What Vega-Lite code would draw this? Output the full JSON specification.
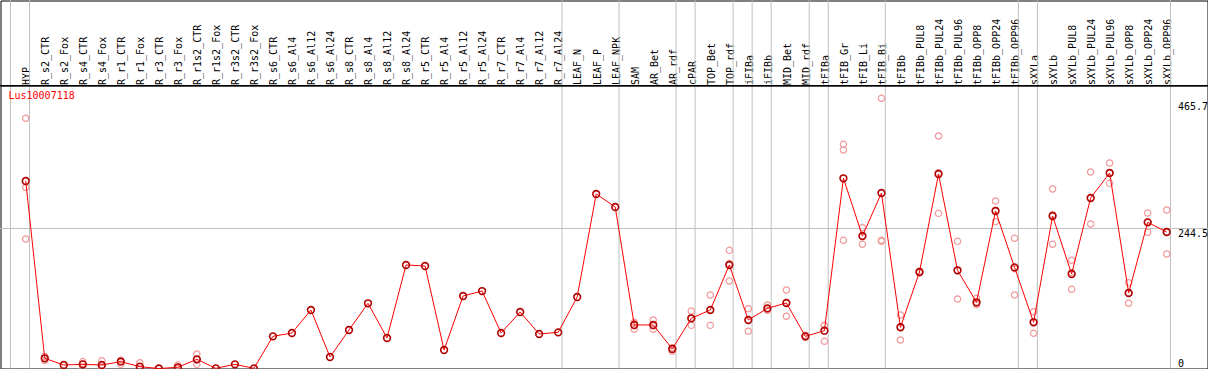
{
  "$schema": "https://vega.github.io/schema/vega-lite/v6.json",
  "width": 1207,
  "height": 368,
  "autosize": {"type": "none"},
  "padding": 0.5,
  "background": "white",
  "view": {"stroke": "black", "strokeWidth": 1},
  "config": {"font": "DejaVu Sans Mono"},
  "title": {"text": "Lus10007118", "color": "#ff0000", "font": "DejaVu Sans Mono", "fontSize": 10, "fontWeight": "normal", "anchor": "start", "frame": "group", "orient": "top", "offset": -101, "dx": 8},
  "datasets": {
    "groups": [
      {"sample": "HYP"}, {"sample": "R_s2_CTR"}, {"sample": "LEAF_N"}, {"sample": "SAM"}, {"sample": "cPAR"}, {"sample": "TOP_Bet"}, {"sample": "iFIBa"}, {"sample": "iFIBb"}, {"sample": "MID_Bet"}, {"sample": "tFIBa"}, {"sample": "tFIB_Gr"}, {"sample": "tFIBb"}, {"sample": "sXYLa"}, {"sample": "sXYLb"}
    ],
    "last": [{"sample": "sXYLb_OPP96"}],
    "means": [
      {"sample": "HYP", "value": 327.5},
      {"sample": "R_s2_CTR", "value": 17.8},
      {"sample": "R_s2_Fox", "value": 6.1},
      {"sample": "R_s4_CTR", "value": 7.3},
      {"sample": "R_s4_Fox", "value": 6.1},
      {"sample": "R_r1_CTR", "value": 11.9},
      {"sample": "R_r1_Fox", "value": 3.2},
      {"sample": "R_r3_CTR", "value": 0},
      {"sample": "R_r3_Fox", "value": 2.1},
      {"sample": "R_r1s2_CTR", "value": 16.0},
      {"sample": "R_r1s2_Fox", "value": 0.3},
      {"sample": "R_r3s2_CTR", "value": 7.3},
      {"sample": "R_r3s2_Fox", "value": 0.3},
      {"sample": "R_s6_CTR", "value": 56.2},
      {"sample": "R_s6_Al4", "value": 62.0},
      {"sample": "R_s6_Al12", "value": 102.2},
      {"sample": "R_s6_Al24", "value": 20.1},
      {"sample": "R_s8_CTR", "value": 67.2},
      {"sample": "R_s8_Al4", "value": 113.9},
      {"sample": "R_s8_Al12", "value": 53.3},
      {"sample": "R_s8_Al24", "value": 180.8},
      {"sample": "R_r5_CTR", "value": 179.0},
      {"sample": "R_r5_Al4", "value": 32.3},
      {"sample": "R_r5_Al12", "value": 126.6},
      {"sample": "R_r5_Al24", "value": 135.3},
      {"sample": "R_r7_CTR", "value": 62.0},
      {"sample": "R_r7_Al4", "value": 98.7},
      {"sample": "R_r7_Al12", "value": 60.3},
      {"sample": "R_r7_Al24", "value": 63.2},
      {"sample": "LEAF_N", "value": 124.9},
      {"sample": "LEAF_P", "value": 304.8},
      {"sample": "LEAF_NPK", "value": 282.1},
      {"sample": "SAM", "value": 76.0},
      {"sample": "AR_Bet", "value": 76.0},
      {"sample": "AR_rdf", "value": 34.1},
      {"sample": "cPAR", "value": 87.7},
      {"sample": "TOP_Bet", "value": 102.2},
      {"sample": "TOP_rdf", "value": 180.8},
      {"sample": "iFIBa", "value": 84.7},
      {"sample": "iFIBb", "value": 105.1},
      {"sample": "MID_Bet", "value": 114.4},
      {"sample": "MID_rdf", "value": 56.2},
      {"sample": "tFIBa", "value": 66.0},
      {"sample": "tFIB_Gr", "value": 332.2},
      {"sample": "tFIB_Li", "value": 231.4},
      {"sample": "tFIB_Bi", "value": 306.5},
      {"sample": "tFIBb", "value": 72.0},
      {"sample": "tFIBb_PUL8", "value": 168.5},
      {"sample": "tFIBb_PUL24", "value": 339.7},
      {"sample": "tFIBb_PUL96", "value": 171.5},
      {"sample": "tFIBb_OPP8", "value": 115.6},
      {"sample": "tFIBb_OPP24", "value": 275.1},
      {"sample": "tFIBb_OPP96", "value": 176.7},
      {"sample": "sXYLa", "value": 80.7},
      {"sample": "sXYLb", "value": 266.3},
      {"sample": "sXYLb_PUL8", "value": 165.0},
      {"sample": "sXYLb_PUL24", "value": 297.8},
      {"sample": "sXYLb_PUL96", "value": 341.4},
      {"sample": "sXYLb_OPP8", "value": 131.9},
      {"sample": "sXYLb_OPP24", "value": 255.3},
      {"sample": "sXYLb_OPP96", "value": 238.4}
    ],
    "reps": [
      {"sample": "HYP", "value": 437.0}, {"sample": "HYP", "value": 316.5}, {"sample": "HYP", "value": 226.2},
      {"sample": "R_s2_CTR", "value": 21.0}, {"sample": "R_s2_CTR", "value": 14.0}, {"sample": "R_s2_CTR", "value": 18.0},
      {"sample": "R_s4_CTR", "value": 12.0}, {"sample": "R_s4_CTR", "value": 2.0}, {"sample": "R_s4_CTR", "value": 8.0},
      {"sample": "R_s4_Fox", "value": 13.6}, {"sample": "R_s4_Fox", "value": 2.0}, {"sample": "R_s4_Fox", "value": 2.7},
      {"sample": "R_r1_CTR", "value": 14.3}, {"sample": "R_r1_CTR", "value": 7.3}, {"sample": "R_r1_CTR", "value": 14.1},
      {"sample": "R_r1_Fox", "value": 10.0}, {"sample": "R_r1_Fox", "value": 0}, {"sample": "R_r1_Fox", "value": 0},
      {"sample": "R_r3_Fox", "value": 6.0}, {"sample": "R_r3_Fox", "value": 0}, {"sample": "R_r3_Fox", "value": 0.3},
      {"sample": "R_r1s2_CTR", "value": 25.3}, {"sample": "R_r1s2_CTR", "value": 7.3}, {"sample": "R_r1s2_CTR", "value": 15.4},
      {"sample": "SAM", "value": 80.7}, {"sample": "SAM", "value": 68.5}, {"sample": "SAM", "value": 78.8},
      {"sample": "AR_Bet", "value": 84.7}, {"sample": "AR_Bet", "value": 68.5}, {"sample": "AR_Bet", "value": 74.8},
      {"sample": "AR_rdf", "value": 30.0}, {"sample": "AR_rdf", "value": 36.0}, {"sample": "AR_rdf", "value": 36.3},
      {"sample": "cPAR", "value": 100.4}, {"sample": "cPAR", "value": 75.4}, {"sample": "cPAR", "value": 87.3},
      {"sample": "TOP_Bet", "value": 128.4}, {"sample": "TOP_Bet", "value": 75.4}, {"sample": "TOP_Bet", "value": 102.8},
      {"sample": "TOP_rdf", "value": 206.4}, {"sample": "TOP_rdf", "value": 152.8}, {"sample": "TOP_rdf", "value": 183.2},
      {"sample": "iFIBa", "value": 104.3}, {"sample": "iFIBa", "value": 65.0}, {"sample": "iFIBa", "value": 84.8},
      {"sample": "iFIBb", "value": 110.9}, {"sample": "iFIBb", "value": 102.2}, {"sample": "iFIBb", "value": 102.2},
      {"sample": "MID_Bet", "value": 137.1}, {"sample": "MID_Bet", "value": 91.2}, {"sample": "MID_Bet", "value": 114.9},
      {"sample": "MID_rdf", "value": 58.0}, {"sample": "MID_rdf", "value": 54.5}, {"sample": "MID_rdf", "value": 56.0},
      {"sample": "tFIBa", "value": 75.4}, {"sample": "tFIBa", "value": 47.5}, {"sample": "tFIBa", "value": 75.1},
      {"sample": "tFIB_Gr", "value": 391.5}, {"sample": "tFIB_Gr", "value": 381.6}, {"sample": "tFIB_Gr", "value": 223.9},
      {"sample": "tFIB_Li", "value": 245.9}, {"sample": "tFIB_Li", "value": 216.9}, {"sample": "tFIB_Li", "value": 231.4},
      {"sample": "tFIB_Bi", "value": 471.9}, {"sample": "tFIB_Bi", "value": 223.9}, {"sample": "tFIB_Bi", "value": 222.1},
      {"sample": "tFIBb", "value": 93.4}, {"sample": "tFIBb", "value": 49.8}, {"sample": "tFIBb", "value": 72.8},
      {"sample": "tFIBb_PUL8", "value": 170.0}, {"sample": "tFIBb_PUL8", "value": 167.0}, {"sample": "tFIBb_PUL8", "value": 168.5},
      {"sample": "tFIBb_PUL24", "value": 406.1}, {"sample": "tFIBb_PUL24", "value": 271.0}, {"sample": "tFIBb_PUL24", "value": 342.0},
      {"sample": "tFIBb_PUL96", "value": 222.1}, {"sample": "tFIBb_PUL96", "value": 121.4}, {"sample": "tFIBb_PUL96", "value": 171.0},
      {"sample": "tFIBb_OPP8", "value": 122.6}, {"sample": "tFIBb_OPP8", "value": 112.6}, {"sample": "tFIBb_OPP8", "value": 111.6},
      {"sample": "tFIBb_OPP24", "value": 292.5}, {"sample": "tFIBb_OPP24", "value": 256.4}, {"sample": "tFIBb_OPP24", "value": 276.4},
      {"sample": "tFIBb_OPP96", "value": 227.4}, {"sample": "tFIBb_OPP96", "value": 128.4}, {"sample": "tFIBb_OPP96", "value": 174.3},
      {"sample": "sXYLa", "value": 99.2}, {"sample": "sXYLa", "value": 61.5}, {"sample": "sXYLa", "value": 81.4},
      {"sample": "sXYLb", "value": 313.5}, {"sample": "sXYLb", "value": 216.9}, {"sample": "sXYLb", "value": 268.5},
      {"sample": "sXYLb_PUL8", "value": 189.0}, {"sample": "sXYLb_PUL8", "value": 138.3}, {"sample": "sXYLb_PUL8", "value": 167.7},
      {"sample": "sXYLb_PUL24", "value": 343.2}, {"sample": "sXYLb_PUL24", "value": 252.4}, {"sample": "sXYLb_PUL24", "value": 297.8},
      {"sample": "sXYLb_PUL96", "value": 358.9}, {"sample": "sXYLb_PUL96", "value": 323.4}, {"sample": "sXYLb_PUL96", "value": 341.9},
      {"sample": "sXYLb_OPP8", "value": 149.8}, {"sample": "sXYLb_OPP8", "value": 113.9}, {"sample": "sXYLb_OPP8", "value": 132.0},
      {"sample": "sXYLb_OPP24", "value": 271.6}, {"sample": "sXYLb_OPP24", "value": 237.9}, {"sample": "sXYLb_OPP24", "value": 256.4},
      {"sample": "sXYLb_OPP96", "value": 276.8}, {"sample": "sXYLb_OPP96", "value": 200.0}, {"sample": "sXYLb_OPP96", "value": 238.4}
    ]
  },
  "encoding": {
    "x": {"field": "sample", "type": "nominal", "bandPosition": 0.8,
      "scale": {"type": "band", "range": [10, 1170], "paddingInner": 0, "paddingOuter": 0,
        "domain": ["HYP","R_s2_CTR","R_s2_Fox","R_s4_CTR","R_s4_Fox","R_r1_CTR","R_r1_Fox","R_r3_CTR","R_r3_Fox","R_r1s2_CTR","R_r1s2_Fox","R_r3s2_CTR","R_r3s2_Fox","R_s6_CTR","R_s6_Al4","R_s6_Al12","R_s6_Al24","R_s8_CTR","R_s8_Al4","R_s8_Al12","R_s8_Al24","R_r5_CTR","R_r5_Al4","R_r5_Al12","R_r5_Al24","R_r7_CTR","R_r7_Al4","R_r7_Al12","R_r7_Al24","LEAF_N","LEAF_P","LEAF_NPK","SAM","AR_Bet","AR_rdf","cPAR","TOP_Bet","TOP_rdf","iFIBa","iFIBb","MID_Bet","MID_rdf","tFIBa","tFIB_Gr","tFIB_Li","tFIB_Bi","tFIBb","tFIBb_PUL8","tFIBb_PUL24","tFIBb_PUL96","tFIBb_OPP8","tFIBb_OPP24","tFIBb_OPP96","sXYLa","sXYLb","sXYLb_PUL8","sXYLb_PUL24","sXYLb_PUL96","sXYLb_OPP8","sXYLb_OPP24","sXYLb_OPP96"]},
      "axis": {"orient": "top", "offset": -85, "labelAngle": -90, "labelAlign": "left", "labelBaseline": "middle", "labelPadding": 1, "labelOffset": 7, "ticks": false, "tickSize": 0, "domain": false, "grid": false, "title": null, "labelFont": "DejaVu Sans Mono", "labelFontSize": 10, "labelColor": "black", "labelOverlap": false, "labelLimit": 0, "labelBound": false}},
    "y": {"field": "value", "type": "quantitative",
      "scale": {"domain": [0, 642.7], "nice": false, "zero": false},
      "axis": {"orient": "right", "values": [0, 244.5, 465.7], "labelExpr": "datum.value == 0 ? '0' : format(datum.value, '.1f')", "grid": false, "domain": false, "ticks": false, "tickSize": 0, "offset": -30, "labelPadding": 0, "labelFont": "DejaVu Sans Mono", "labelFontSize": 10, "labelColor": "black", "labelAlign": "left", "labelBaseline": {"condition": {"test": "datum.value == 0", "value": "bottom"}, "value": "top"}, "labelFlush": false, "labelOverlap": false, "title": null}}
  },
  "layer": [
    {
      "data": {"name": "groups"},
      "mark": {"type": "rule", "color": "#c0c0c0", "strokeWidth": 1},
      "encoding": {
        "x": {"field": "sample", "type": "nominal", "bandPosition": 0},
        "y": null
      }
    },
    {
      "data": {"name": "last"},
      "mark": {"type": "rule", "color": "#c0c0c0", "strokeWidth": 1},
      "encoding": {
        "x": {"field": "sample", "type": "nominal", "bandPosition": 1},
        "y": null
      }
    },
    {
      "data": {"name": "means"},
      "mark": {"type": "rule", "color": "#c0c0c0", "strokeWidth": 1},
      "encoding": {
        "x": null,
        "y": {"datum": 244.5, "type": "quantitative"}
      }
    },
    {
      "data": {"name": "means"},
      "mark": {"type": "rule", "color": "black", "strokeWidth": 1},
      "encoding": {
        "x": null,
        "y": {"datum": 494.2, "type": "quantitative"}
      }
    },
    {
      "data": {"name": "reps"},
      "mark": {"type": "point", "shape": "circle", "filled": false, "stroke": "#f09a9a", "color": "#f09a9a", "strokeWidth": 1.2, "size": 40, "opacity": 1}
    },
    {
      "data": {"name": "means"},
      "mark": {"type": "line", "color": "#ff0000", "strokeWidth": 1},
      "encoding": {
        "order": {"value": null}
      }
    },
    {
      "data": {"name": "means"},
      "mark": {"type": "point", "shape": "circle", "filled": false, "stroke": "#b00000", "color": "#b00000", "strokeWidth": 1.6, "size": 45, "opacity": 1}
    }
  ]
}
